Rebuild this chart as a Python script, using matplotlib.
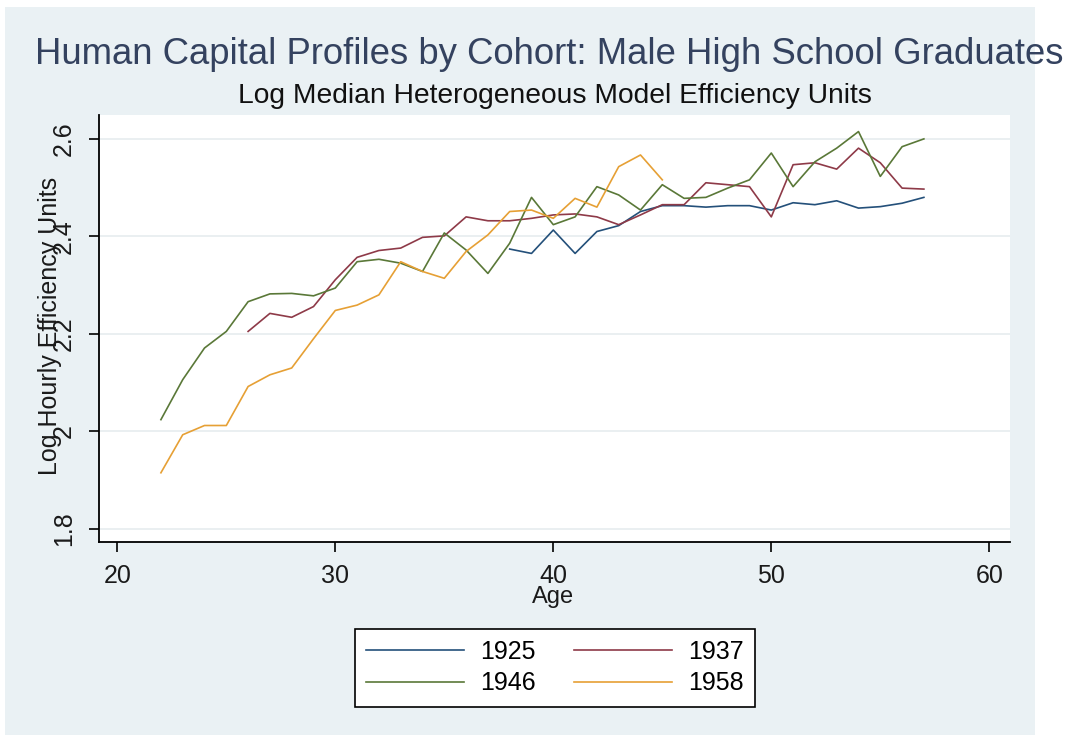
import matplotlib
matplotlib.use("Agg")
import matplotlib.pyplot as plt
from matplotlib.patches import Rectangle

plt.rcParams['font.family'] = ['Liberation Sans', 'DejaVu Sans']

# ---- data ----
ages_1925 = list(range(38, 58))
vals_1925 = [2.374, 2.365, 2.413, 2.365, 2.410, 2.422, 2.451, 2.463, 2.463, 2.460,
             2.463, 2.463, 2.454, 2.469, 2.465, 2.473, 2.458, 2.461, 2.468, 2.480]

ages_1937 = list(range(26, 58))
vals_1937 = [2.205, 2.242, 2.234, 2.256, 2.311, 2.357, 2.371, 2.376, 2.398, 2.401,
             2.440, 2.432, 2.432, 2.437, 2.444, 2.446, 2.440, 2.424, 2.444, 2.465,
             2.465, 2.510, 2.506, 2.502, 2.440, 2.547, 2.551, 2.538, 2.581, 2.551,
             2.499, 2.497]

ages_1946 = list(range(22, 58))
vals_1946 = [2.024, 2.106, 2.171, 2.205, 2.266, 2.282, 2.283, 2.278, 2.294, 2.348,
             2.353, 2.345, 2.328, 2.407, 2.372, 2.324, 2.386, 2.480, 2.424, 2.440,
             2.502, 2.485, 2.454, 2.506, 2.478, 2.480, 2.499, 2.516, 2.571, 2.502,
             2.553, 2.581, 2.615, 2.523, 2.584, 2.600]

ages_1958 = list(range(22, 46))
vals_1958 = [1.915, 1.993, 2.012, 2.012, 2.092, 2.116, 2.130, 2.190, 2.248, 2.259,
             2.280, 2.348, 2.328, 2.314, 2.369, 2.403, 2.451, 2.454, 2.437, 2.478,
             2.460, 2.543, 2.567, 2.516]

cohorts = ["1925", "1937", "1946", "1958"]
colors = ["#24507a", "#8e3a48", "#5a7838", "#e6a035"]

x_ticks = [20, 30, 40, 50, 60]
y_ticks = [1.8, 2.0, 2.2, 2.4, 2.6]
y_ticklabels = ["1.8", "2", "2.2", "2.4", "2.6"]

title = "Human Capital Profiles by Cohort: Male High School Graduates"
subtitle = "Log Median Heterogeneous Model Efficiency Units"
xlabel = "Age"
ylabel = "Log Hourly Efficiency Units"

# ---- figure ----
W, H = 1068, 738
fig = plt.figure(figsize=(W / 100, H / 100), dpi=100)
fig.patch.set_facecolor("white")
bg = "#eaf1f4"
fig.patches.append(Rectangle((5 / W, 1 - 735 / H), (1035 - 5) / W, (735 - 7) / H,
                             transform=fig.transFigure, facecolor=bg,
                             edgecolor="none", zorder=-10))

ax = fig.add_axes([99 / W, 1 - 542 / H, (1010 - 99) / W, (542 - 115) / H])
ax.set_facecolor("white")

series = [(ages_1925, vals_1925), (ages_1937, vals_1937),
          (ages_1946, vals_1946), (ages_1958, vals_1958)]
handles = []
for (a, v), lab, c in zip(series, cohorts, colors):
    h, = ax.plot(a, v, color=c, lw=1.2, label=lab)
    handles.append(h)

ax.set_xlim(19.16, 60.95)
ax.set_ylim(1.773, 2.649)
ax.set_xticks(x_ticks)
ax.set_xticklabels([str(t) for t in x_ticks])
ax.set_yticks(y_ticks)
ax.set_yticklabels(y_ticklabels, rotation=90, va="center")
ax.grid(axis="y", color="#e6ecef", lw=1.2)
ax.set_axisbelow(True)
for s in ["top", "right"]:
    ax.spines[s].set_visible(False)
for s in ["left", "bottom"]:
    ax.spines[s].set_color("black")
    ax.spines[s].set_linewidth(1.3)
ax.tick_params(axis="both", direction="out", length=7.5, width=1.2,
               labelsize=18, colors="black", labelcolor="#1a1a1a")
ax.tick_params(axis="x", pad=8)
ax.tick_params(axis="y", pad=9)

fig.text(50 / W, 1 - 326 / H, ylabel, rotation=90, ha="center", va="center",
         fontsize=18, color="#1a1a1a")
fig.text(553 / W, 1 - 597 / H, xlabel, ha="center", va="center",
         fontsize=17, color="#1a1a1a")

fig.text(549 / W, 1 - 55 / H, title, ha="center", va="center",
         fontsize=26.3, color="#34425f")
fig.text(555 / W, 1 - 96 / H, subtitle, ha="center", va="center",
         fontsize=20.3, color="#111111")

# row-major order as in the reference: 1925 1937 / 1946 1958
order = [0, 2, 1, 3]
leg = fig.legend([handles[i] for i in order], [cohorts[i] for i in order],
                 loc="center", bbox_to_anchor=(555 / W, 1 - 667.5 / H), ncol=2,
                 frameon=True, fontsize=18, handlelength=3.9, handletextpad=0.65,
                 columnspacing=1.55, borderpad=0.45, labelspacing=0.3,
                 fancybox=False, framealpha=1)
leg.get_frame().set_edgecolor("black")
leg.get_frame().set_linewidth(1.2)
leg.get_frame().set_facecolor("white")

fig.savefig("out.png", dpi=100, facecolor=fig.get_facecolor())
